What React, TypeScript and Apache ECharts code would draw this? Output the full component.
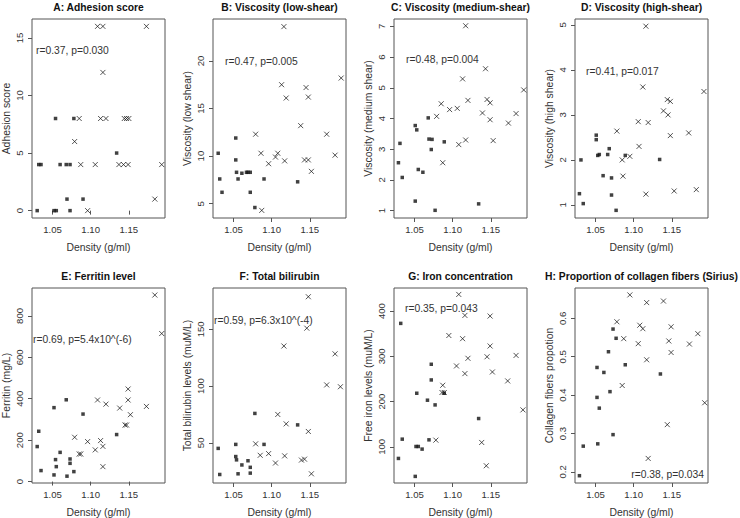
import React, { useEffect, useRef } from "react";
import * as echarts from "echarts";

// ---------------- data ----------------
const densityTicks = [1.05, 1.1, 1.15];
const densityRange = [1.0232, 1.1973];

const panelTitles = [
  "A: Adhesion score",
  "B: Viscosity (low-shear)",
  "C: Viscosity (medium-shear)",
  "D: Viscosity (high-shear)",
  "E: Ferritin level",
  "F: Total bilirubin",
  "G: Iron concentration",
  "H: Proportion of collagen fibers (Sirius)",
];

const yAxisNames = [
  "Adhesion score",
  "Viscosity (low shear)",
  "Viscosity (medium shear)",
  "Viscosity (high shear)",
  "Ferritin (mg/L)",
  "Total bilirubin levels (muM/L)",
  "Free iron levels (muM/L)",
  "Collagen fibers propotion",
];

const annotations = [
  "r=0.37, p=0.030",
  "r=0.47, p=0.005",
  "r=0.48, p=0.004",
  "r=0.41, p=0.017",
  "r=0.69, p=5.4x10^(-6)",
  "r=0.59, p=6.3x10^(-4)",
  "r=0.35, p=0.043",
  "r=0.38, p=0.034",
];

const yTicks = [
  [0, 5, 10, 15],
  [5, 10, 15, 20],
  [1, 2, 3, 4, 5, 6, 7],
  [1, 2, 3, 4, 5],
  [0, 200, 400, 600, 800],
  [50, 100, 150],
  [100, 200, 300, 400],
  [0.2, 0.3, 0.4, 0.5, 0.6],
];

const yRanges = [
  [-0.64, 16.64],
  [3.5, 24.4],
  [0.76, 7.24],
  [0.71, 5.13],
  [-7, 935],
  [14.6, 186.4],
  [20, 451],
  [0.171, 0.679],
];

const adhesionSquares = [
  [1.030, 0], [1.052, 0], [1.055, 0], [1.073, 0], [1.069, 1], [1.090, 1],
  [1.032, 4], [1.035, 4], [1.060, 4], [1.068, 4], [1.073, 4], [1.134, 5],
  [1.054, 8], [1.078, 8],
];
const adhesionCrosses = [
  [1.096, 0], [1.184, 1], [1.087, 4], [1.106, 4], [1.137, 4], [1.143, 4],
  [1.149, 4], [1.193, 4], [1.079, 6], [1.085, 8], [1.113, 8], [1.120, 8],
  [1.144, 8], [1.147, 8], [1.150, 8], [1.116, 12], [1.109, 16], [1.116, 16],
  [1.173, 16],
];

const lowShearSquares = [
  [1.030, 10.3], [1.032, 7.6], [1.035, 6.2], [1.053, 11.9], [1.053, 9.6],
  [1.054, 8.3], [1.056, 7.6], [1.061, 8.2], [1.067, 8.3], [1.069, 8.3],
  [1.072, 8.3], [1.072, 6.2], [1.078, 4.6], [1.090, 7.6], [1.134, 7.3],
];
const lowShearCrosses = [
  [1.116, 23.6], [1.191, 18.2], [1.113, 17.5], [1.145, 17.2], [1.119, 16.1],
  [1.148, 16.2], [1.138, 13.2], [1.079, 12.3], [1.172, 12.3], [1.086, 10.3],
  [1.183, 10.1], [1.105, 9.9], [1.108, 10.3], [1.096, 9.2], [1.117, 9.5],
  [1.143, 9.6], [1.148, 9.6], [1.152, 8.4], [1.087, 4.3],
];

const mediumShearSquares = [
  [1.068, 4.02], [1.051, 3.77], [1.053, 3.63], [1.031, 3.19], [1.069, 3.33],
  [1.073, 3.32], [1.089, 3.24], [1.072, 2.99], [1.029, 2.56], [1.055, 2.34],
  [1.061, 2.25], [1.034, 2.08], [1.051, 1.31], [1.077, 1.01], [1.134, 1.22],
];
const mediumShearCrosses = [
  [1.117, 7.02], [1.143, 5.62], [1.113, 5.29], [1.193, 4.93], [1.085, 4.48],
  [1.120, 4.59], [1.096, 4.29], [1.106, 4.33], [1.145, 4.62], [1.149, 4.51],
  [1.079, 4.07], [1.139, 4.18], [1.183, 4.16], [1.149, 3.96], [1.173, 3.85],
  [1.108, 3.15], [1.117, 3.30], [1.153, 3.28], [1.087, 2.56],
];

const highShearSquares = [
  [1.051, 2.55], [1.051, 2.45], [1.053, 2.10], [1.055, 2.12], [1.031, 2.0],
  [1.068, 2.25], [1.066, 2.12], [1.089, 2.10], [1.060, 1.65], [1.071, 1.60],
  [1.029, 1.25], [1.034, 1.03], [1.071, 1.22], [1.077, 0.88], [1.134, 2.01],
];
const highShearCrosses = [
  [1.116, 4.97], [1.112, 3.62], [1.192, 3.52], [1.144, 3.34], [1.148, 3.30],
  [1.139, 3.09], [1.145, 3.0], [1.106, 2.85], [1.119, 2.83], [1.078, 2.64],
  [1.172, 2.60], [1.148, 2.54], [1.107, 2.30], [1.095, 2.08], [1.085, 2.0],
  [1.086, 1.64], [1.116, 1.24], [1.153, 1.31], [1.182, 1.34],
];

const ferritinSquares = [
  [1.068, 395], [1.052, 357], [1.090, 326], [1.032, 243], [1.030, 169],
  [1.060, 141], [1.054, 106], [1.073, 109], [1.073, 88], [1.055, 72],
  [1.035, 53], [1.078, 48], [1.052, 32], [1.069, 26], [1.134, 227],
];
const ferritinCrosses = [
  [1.184, 901], [1.193, 715], [1.149, 447], [1.109, 394], [1.149, 394],
  [1.120, 374], [1.173, 363], [1.138, 355], [1.152, 323], [1.145, 273],
  [1.147, 273], [1.079, 214], [1.096, 193], [1.113, 198], [1.116, 170],
  [1.106, 153], [1.085, 133], [1.087, 133], [1.116, 72],
];

const bilirubinSquares = [
  [1.078, 75.9], [1.134, 65.8], [1.053, 48.6], [1.090, 48.6], [1.030, 45.1],
  [1.053, 37.9], [1.054, 35], [1.061, 30.5], [1.069, 34.2], [1.072, 28.4],
  [1.072, 23.3], [1.056, 22.7], [1.032, 22.1],
];
const bilirubinCrosses = [
  [1.148, 178.7], [1.146, 151], [1.116, 135.3], [1.183, 128.4], [1.172, 101],
  [1.190, 99.4], [1.108, 75], [1.119, 66.7], [1.148, 60], [1.079, 49.1],
  [1.085, 39], [1.096, 40.5], [1.117, 38.5], [1.105, 32.2], [1.139, 34.8],
  [1.143, 35.6], [1.152, 22.7],
];

const ironSquares = [
  [1.032, 372.8], [1.072, 282.4], [1.072, 247.8], [1.053, 218.4], [1.089, 218.4],
  [1.067, 203], [1.077, 192.6], [1.134, 162.5], [1.034, 116.9], [1.069, 115.4],
  [1.052, 100.7], [1.055, 100.7], [1.060, 94.9], [1.029, 74.3], [1.051, 34.6],
];
const ironCrosses = [
  [1.108, 436.8], [1.116, 390.4], [1.149, 389], [1.095, 346], [1.113, 339],
  [1.149, 322.8], [1.145, 299], [1.120, 295.6], [1.183, 302], [1.105, 278.7],
  [1.152, 265.4], [1.116, 261.8], [1.172, 245.6], [1.087, 236], [1.086, 220],
  [1.089, 220], [1.192, 181.6], [1.078, 114.7], [1.138, 109.6], [1.144, 58.1],
];

const collagenSquares = [
  [1.073, 0.572], [1.077, 0.548], [1.067, 0.513], [1.052, 0.472], [1.061, 0.459],
  [1.089, 0.479], [1.135, 0.455], [1.069, 0.409], [1.052, 0.394], [1.055, 0.366],
  [1.073, 0.297], [1.053, 0.273], [1.034, 0.267], [1.029, 0.190],
];
const collagenCrosses = [
  [1.095, 0.661], [1.117, 0.641], [1.139, 0.645], [1.078, 0.591], [1.108, 0.582],
  [1.112, 0.573], [1.149, 0.578], [1.184, 0.560], [1.087, 0.547], [1.146, 0.541],
  [1.106, 0.534], [1.173, 0.533], [1.149, 0.511], [1.117, 0.492], [1.085, 0.425],
  [1.193, 0.380], [1.144, 0.323], [1.119, 0.235],
];

const squareSets = [
  adhesionSquares, lowShearSquares, mediumShearSquares, highShearSquares,
  ferritinSquares, bilirubinSquares, ironSquares, collagenSquares,
];
const crossSets = [
  adhesionCrosses, lowShearCrosses, mediumShearCrosses, highShearCrosses,
  ferritinCrosses, bilirubinCrosses, ironCrosses, collagenCrosses,
];

// ---------------- layout / style ----------------
const FONT = "'Liberation Sans', Arial, Helvetica, sans-serif";
const BOX_LEFT = [32, 213, 394, 575];
const BOX_TOP = [19, 288];
const BOX_W = 133;
const BOX_H = 199;
const TITLE_Y = [7, 276];
const ANNOT_POS: [number, number, string][] = [
  [36, 50, "left"], [225, 61, "left"], [406, 59, "left"], [586, 71, "left"],
  [33, 339, "left"], [214, 320, "left"], [405, 308, "left"], [704, 474, "right"],
];
const BOX_COLOR = "#555";
const TEXT_COLOR = "#333";
const POINT_COLOR = "#111";
const FS_TITLE = 10.3;
const FS_NAME = 10.4;
const FS_TICK = 9.6;
const FS_ANNOT = 10.3;

function buildOption() {
  const grids: any[] = [];
  const xAxes: any[] = [];
  const yAxes: any[] = [];
  const series: any[] = [];
  const graphics: any[] = [];

  for (let i = 0; i < 8; i++) {
    const col = i % 4;
    const row = Math.floor(i / 4);
    grids.push({
      left: BOX_LEFT[col],
      top: BOX_TOP[row],
      width: BOX_W,
      height: BOX_H,
      show: true,
      borderColor: BOX_COLOR,
      borderWidth: 1,
      backgroundColor: "transparent",
    });
    xAxes.push({
      type: "value",
      gridIndex: i,
      min: densityRange[0],
      max: densityRange[1],
      axisLine: { show: false },
      splitLine: { show: false },
      axisTick: {
        show: true,
        length: 4,
        customValues: densityTicks,
        lineStyle: { color: BOX_COLOR },
      },
      axisLabel: {
        customValues: densityTicks,
        formatter: (v: number) => v.toFixed(2),
        margin: 6.5,
        fontSize: FS_TICK,
        color: TEXT_COLOR,
        fontFamily: FONT,
      },
      name: "Density (g/ml)",
      nameLocation: "middle",
      nameGap: 24,
      nameTextStyle: { fontSize: FS_NAME, color: TEXT_COLOR, fontFamily: FONT },
    });
    const decimals = i === 7 ? 1 : 0;
    yAxes.push({
      type: "value",
      gridIndex: i,
      min: yRanges[i][0],
      max: yRanges[i][1],
      axisLine: { show: false },
      splitLine: { show: false },
      axisTick: {
        show: true,
        length: 4,
        customValues: yTicks[i],
        lineStyle: { color: BOX_COLOR },
      },
      axisLabel: {
        customValues: yTicks[i],
        formatter: (v: number) => v.toFixed(decimals),
        rotate: 90,
        margin: 8,
        fontSize: FS_TICK,
        color: TEXT_COLOR,
        fontFamily: FONT,
      },
      name: yAxisNames[i],
      nameLocation: "middle",
      nameGap: 21,
      nameTextStyle: { fontSize: FS_NAME, color: TEXT_COLOR, fontFamily: FONT },
    });
    series.push({
      type: "scatter",
      xAxisIndex: i,
      yAxisIndex: i,
      data: squareSets[i],
      symbol: "rect",
      symbolSize: 3.5,
      itemStyle: { color: POINT_COLOR },
      silent: true,
    });
    series.push({
      type: "scatter",
      xAxisIndex: i,
      yAxisIndex: i,
      data: crossSets[i],
      symbol: "path://M0,0L10,10M10,0L0,10",
      symbolSize: [5, 5],
      itemStyle: { color: "transparent", borderColor: POINT_COLOR, borderWidth: 0.9 },
      silent: true,
    });
    graphics.push({
      type: "text",
      x: BOX_LEFT[col] + BOX_W / 2,
      y: TITLE_Y[row],
      style: {
        text: panelTitles[i],
        font: `bold ${FS_TITLE}px ${FONT}`,
        fill: "#111",
        align: "center",
        verticalAlign: "middle",
        textAlign: "center",
        textVerticalAlign: "middle",
      },
    });
    const [ax, ay, al] = ANNOT_POS[i];
    graphics.push({
      type: "text",
      x: ax,
      y: ay,
      style: {
        text: annotations[i],
        font: `${FS_ANNOT}px ${FONT}`,
        fill: TEXT_COLOR,
        align: al,
        verticalAlign: "middle",
        textAlign: al,
        textVerticalAlign: "middle",
      },
    });
  }

  return {
    animation: false,
    backgroundColor: "#fff",
    grid: grids,
    xAxis: xAxes,
    yAxis: yAxes,
    series,
    graphic: graphics,
  };
}

export default function App() {
  const ref = useRef<HTMLDivElement>(null);
  useEffect(() => {
    if (!ref.current) return;
    const chart = echarts.init(ref.current, undefined, { renderer: "svg" });
    chart.setOption(buildOption() as any);
    return () => chart.dispose();
  }, []);
  return (
    <div
      ref={ref}
      style={{ position: "absolute", left: 0, top: 0, width: 740, height: 518, background: "#fff" }}
    />
  );
}
